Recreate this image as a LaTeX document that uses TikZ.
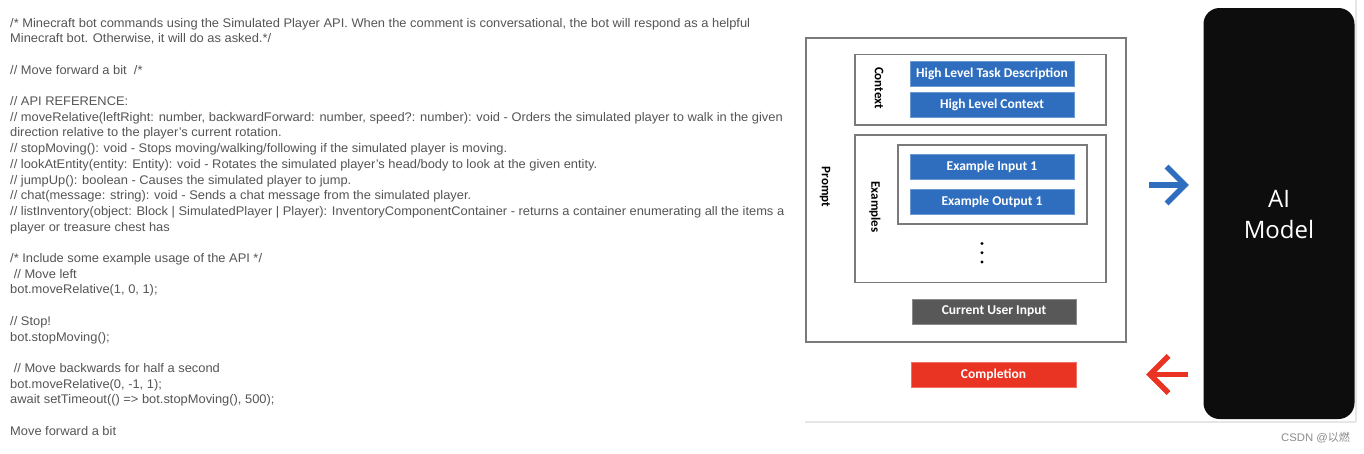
\documentclass[tikz,border=0pt]{standalone}
\usepackage{fontspec}
\setmainfont{Liberation Sans}[FakeStretch=1.03]
\newfontfamily\boxfont{Carlito}
\newfontfamily\modelfont{Open Sans}
\newfontfamily\cjkfont{Noto Sans CJK SC}
\definecolor{codegray}{HTML}{555555}
\definecolor{boxblue}{HTML}{2F6EBE}
\definecolor{boxgray}{HTML}{585858}
\definecolor{boxred}{HTML}{E93424}
\definecolor{framegray}{HTML}{7A7A7A}
\definecolor{linegray}{HTML}{E6E6E6}
\tikzset{
  codeline/.style={anchor=base west, inner sep=0pt, text=codegray, font=\fontsize{12.5}{14}\selectfont},
  frame/.style={draw=framegray, line width=1.2pt, fill=white},
  blockbox/.style={fill=boxblue, draw=boxblue!70!white, line width=0.6pt, text=white,
     font=\boxfont\bfseries\fontsize{13.5}{15}\selectfont, inner sep=0pt},
  vlabel/.style={rotate=-90, font=\boxfont\bfseries\fontsize{13}{15}\selectfont, inner sep=0pt},
  chevron/.style={line width=5.5pt, line cap=butt, line join=miter},
}
\begin{document}
\begin{tikzpicture}[x=1pt,y=-1pt]
\useasboundingbox (0,0) rectangle (1364,453);
\fill[white] (0,0) rectangle (1364,453);
% ---- code text ----
\def\lx{10}
\node[codeline] (l1) at (\lx,27) {/* Minecraft bot commands using the Simulated Player API. When the comment is conversational, the bot will respond as a helpful};
\node[codeline] (l2) at (\lx,42.7) {Minecraft bot. Otherwise, it will do as asked.*/};
\node[codeline] (l3) at (\lx,74.1) {// Move forward a bit\ \ /*};
\node[codeline] (l4) at (\lx,105.5) {// API REFERENCE:};
\node[codeline] (l5) at (\lx,121.2) {// moveRelative(leftRight: number, backwardForward: number, speed?: number): void - Orders the simulated player to walk in the given};
\node[codeline] (l6) at (\lx,136.9) {direction relative to the player's current rotation.};
\node[codeline] (l7) at (\lx,152.6) {// stopMoving(): void - Stops moving/walking/following if the simulated player is moving.};
\node[codeline] (l8) at (\lx,168.3) {// lookAtEntity(entity: Entity): void - Rotates the simulated player's head/body to look at the given entity.};
\node[codeline] (l9) at (\lx,184) {// jumpUp(): boolean - Causes the simulated player to jump.};
\node[codeline] (l10) at (\lx,199.7) {// chat(message: string): void - Sends a chat message from the simulated player.};
\node[codeline] (l11) at (\lx,215.4) {// listInventory(object: Block | SimulatedPlayer | Player): InventoryComponentContainer - returns a container enumerating all the items a};
\node[codeline] (l12) at (\lx,231.1) {player or treasure chest has};
\node[codeline] (l13) at (\lx,262.5) {/* Include some example usage of the API */};
\node[codeline] (l14) at (\lx,278.2) {\ // Move left};
\node[codeline] (l15) at (\lx,293.9) {bot.moveRelative(1, 0, 1);};
\node[codeline] (l16) at (\lx,325.3) {// Stop!};
\node[codeline] (l17) at (\lx,341) {bot.stopMoving();};
\node[codeline] (l18) at (\lx,372.4) {\ // Move backwards for half a second};
\node[codeline] (l19) at (\lx,388.1) {bot.moveRelative(0, -1, 1);};
\node[codeline] (l20) at (\lx,403.8) {await setTimeout(() => bot.stopMoving(), 500);};
\node[codeline] (l21) at (\lx,435.2) {Move forward a bit};
% ---- right panel frame lines ----
\draw[linegray, line width=2pt] (805,421.5) -- (1356,421.5);
\draw[linegray, line width=1.2pt] (1356,0) -- (1356,421.5);
% ---- prompt structure ----
\draw[frame] (806,38) rectangle (1126,342);
\node[vlabel] (prompt) at (825,187) {Prompt};
\draw[frame] (855,54.5) rectangle (1106,125);
\node[vlabel] (context) at (879,88) {Context};
\node[blockbox, minimum width=164pt, minimum height=24.5pt] (hltd) at (992,74) {High Level Task Description};
\node[blockbox, minimum width=164pt, minimum height=24.5pt] (hlc) at (992,105) {High Level Context};
\draw[frame] (855,135) rectangle (1106,282.5);
\node[vlabel] (examples) at (875,207) {Examples};
\draw[frame] (898,145) rectangle (1087,224);
\node[blockbox, minimum width=164pt, minimum height=25pt] (ein) at (992,167) {Example Input 1};
\node[blockbox, minimum width=164pt, minimum height=25pt] (eout) at (992,201.5) {Example Output 1};
\fill (982,243.5) circle (1.6pt) (982,252.8) circle (1.6pt) (982,262) circle (1.6pt);
\node[blockbox, fill=boxgray, draw=boxgray!70!white, minimum width=164pt, minimum height=25pt] (cui) at (994,311.5) {Current User Input};
\node[blockbox, fill=boxred, draw=boxred!70!white, minimum width=165pt, minimum height=25pt] (comp) at (993.5,374.5) {Completion};
% ---- AI model ----
\node[fill=black!95, rounded corners=16pt, minimum width=151pt, minimum height=411pt, inner sep=0pt] (model) at (1279,213.5) {};
\node[text=white, font=\modelfont\fontsize{24}{31}\selectfont, align=center, inner sep=0pt] (modeltext) at (1279,215) {AI\\Model};
% ---- arrows ----
\coordinate (binA) at (1149,185);
\coordinate (binB) at (1185,185);
\draw[chevron, boxblue] (binA) -- (binB);
\draw[chevron, boxblue] ([shift={(-18.5,-18.5)}]binB) -- (binB) -- ([shift={(-18.5,18.5)}]binB);
\coordinate (routA) at (1188,374.5);
\coordinate (routB) at (1150,374.5);
\draw[chevron, boxred] (routA) -- (routB);
\draw[chevron, boxred] ([shift={(18.5,-18.5)}]routB) -- (routB) -- ([shift={(18.5,18.5)}]routB);
% ---- watermark ----
\node[anchor=west, text=black!45, font=\fontsize{11}{13}\selectfont, inner sep=0pt] (wm) at (1281,438) {CSDN @{\cjkfont 以燃}};
\end{tikzpicture}
\end{document}
